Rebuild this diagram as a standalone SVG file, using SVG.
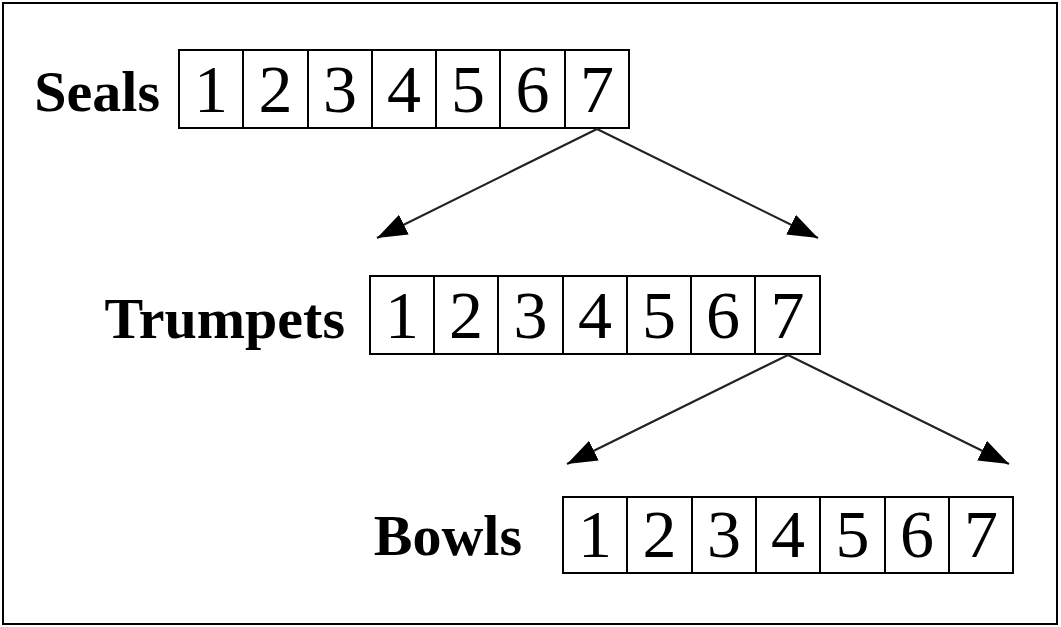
<svg xmlns="http://www.w3.org/2000/svg" width="1061" height="627" viewBox="0 0 1061 627">
<style>
.cell{fill:#fff;stroke:#000;stroke-width:2}
.num{font-family:"Liberation Serif",serif;font-size:68px;text-anchor:middle;fill:#000}
.lbl{font-family:"Liberation Serif",serif;font-size:58px;font-weight:bold;text-anchor:end;fill:#000}
.conn{stroke:#222;stroke-width:2.2;fill:none;marker-end:url(#ah)}
</style>
<defs>
<marker id="ah" viewBox="0 0 30 22" refX="30" refY="11" markerWidth="30" markerHeight="22" orient="auto" markerUnits="userSpaceOnUse">
<path d="M0,0 L30,11 L0,22 Z" fill="#000"/>
</marker>
</defs>
<rect x="0" y="0" width="1061" height="627" fill="#fff"/>
<rect x="3" y="3" width="1054" height="621" fill="none" stroke="#000" stroke-width="2"/>
<g id="seals">
<text class="lbl" x="160" y="111">Seals</text>
<rect class="cell" x="179" y="50" width="64" height="78"/>
<rect class="cell" x="243" y="50" width="65" height="78"/>
<rect class="cell" x="308" y="50" width="64" height="78"/>
<rect class="cell" x="372" y="50" width="64" height="78"/>
<rect class="cell" x="436" y="50" width="64" height="78"/>
<rect class="cell" x="500" y="50" width="65" height="78"/>
<rect class="cell" x="565" y="50" width="64" height="78"/>
<text class="num" x="211" y="112">1</text>
<text class="num" x="275.5" y="112">2</text>
<text class="num" x="340" y="112">3</text>
<text class="num" x="404" y="112">4</text>
<text class="num" x="468" y="112">5</text>
<text class="num" x="532.5" y="112">6</text>
<text class="num" x="597" y="112">7</text>
</g>
<g id="trumpets">
<text class="lbl" x="345" y="338">Trumpets</text>
<rect class="cell" x="370" y="276" width="64" height="78"/>
<rect class="cell" x="434" y="276" width="64" height="78"/>
<rect class="cell" x="498" y="276" width="65" height="78"/>
<rect class="cell" x="563" y="276" width="64" height="78"/>
<rect class="cell" x="627" y="276" width="64" height="78"/>
<rect class="cell" x="691" y="276" width="64" height="78"/>
<rect class="cell" x="755" y="276" width="65" height="78"/>
<text class="num" x="402" y="338">1</text>
<text class="num" x="466" y="338">2</text>
<text class="num" x="530.5" y="338">3</text>
<text class="num" x="595" y="338">4</text>
<text class="num" x="659" y="338">5</text>
<text class="num" x="723" y="338">6</text>
<text class="num" x="787.5" y="338">7</text>
</g>
<g id="bowls">
<text class="lbl" x="522" y="555">Bowls</text>
<rect class="cell" x="563" y="497" width="64" height="76"/>
<rect class="cell" x="627" y="497" width="65" height="76"/>
<rect class="cell" x="692" y="497" width="64" height="76"/>
<rect class="cell" x="756" y="497" width="64" height="76"/>
<rect class="cell" x="820" y="497" width="65" height="76"/>
<rect class="cell" x="885" y="497" width="64" height="76"/>
<rect class="cell" x="949" y="497" width="64" height="76"/>
<text class="num" x="595" y="557">1</text>
<text class="num" x="659.5" y="557">2</text>
<text class="num" x="724" y="557">3</text>
<text class="num" x="788" y="557">4</text>
<text class="num" x="852.5" y="557">5</text>
<text class="num" x="917" y="557">6</text>
<text class="num" x="981" y="557">7</text>
</g>
<g id="connectors">
<line class="conn" x1="597" y1="129" x2="377" y2="238"/>
<line class="conn" x1="597" y1="129" x2="818" y2="238"/>
<line class="conn" x1="788" y1="355" x2="567" y2="464"/>
<line class="conn" x1="788" y1="355" x2="1009" y2="464"/>
</g>
</svg>
